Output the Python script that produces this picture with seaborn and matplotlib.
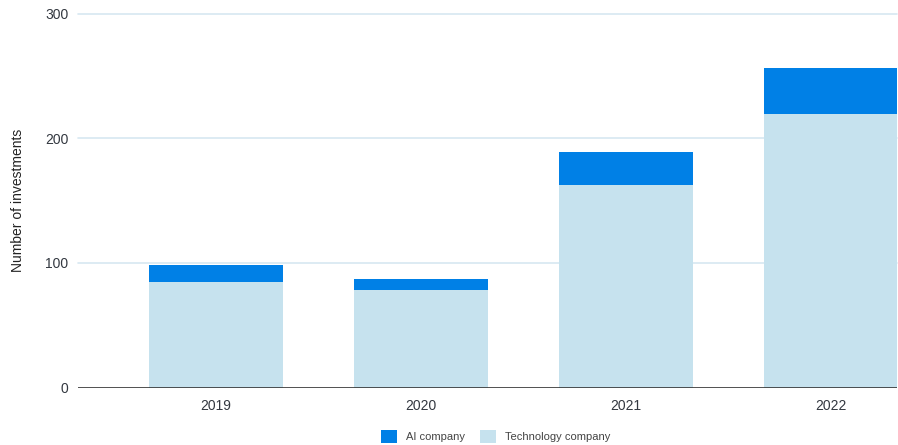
import matplotlib
matplotlib.use("Agg")
import matplotlib.pyplot as plt
from matplotlib.patches import Patch
import seaborn as sns
import pandas as pd

years = ["2019", "2020", "2021", "2022"]
tech_company = [85, 78, 163, 220]
ai_company = [13, 9, 26, 37]

AI_COLOR = "#0080E6"
TECH_COLOR = "#C6E2EE"
GRID_COLOR = "#D7E8F1"
TEXT_COLOR = "#333840"

sns.set_theme(style="white")
plt.rcParams["font.family"] = ["Liberation Sans", "DejaVu Sans"]

df = pd.DataFrame({
    "year": years,
    "tech": tech_company,
    "total": [t + a for t, a in zip(tech_company, ai_company)],
})

fig = plt.figure(figsize=(8.98, 4.45), dpi=100)
ax = fig.add_axes([78 / 898, 57.5 / 445, 819 / 898, 373.5 / 445])

# Stacked bars: full height in AI colour, technology part drawn over it
sns.barplot(data=df, x="year", y="total", color=AI_COLOR, width=0.65,
            saturation=1, linewidth=0, ax=ax, zorder=2)
sns.barplot(data=df, x="year", y="tech", color=TECH_COLOR, width=0.65,
            saturation=1, linewidth=0, ax=ax, zorder=3)

# Category slots are offset so the last bar sits at the right edge
ax.set_xlim(-0.673, 3.322)
ax.set_ylim(0, 300)
ax.set_yticks([0, 100, 200, 300])
for y in [100, 200, 300]:
    ax.axhline(y, color=GRID_COLOR, lw=1.2, zorder=1, clip_on=False)
ax.axhline(0, color="#333333", lw=1.2, zorder=4)

for s in ax.spines.values():
    s.set_visible(False)
ax.tick_params(axis="both", length=0, labelsize=10, colors=TEXT_COLOR)
ax.tick_params(axis="y", pad=7)
ax.tick_params(axis="x", pad=8)
ax.set_xlabel("")
ax.set_ylabel("")
fig.text(18 / 898, 1 - 200 / 445, "Number of investments", rotation=90,
         ha="center", va="center", fontsize=10, color="#222222")

handles = [Patch(facecolor=AI_COLOR, edgecolor="none", label="AI company"),
           Patch(facecolor=TECH_COLOR, edgecolor="none", label="Technology company")]
fig.legend(handles=handles, loc="center", bbox_to_anchor=(0.552, 0.02),
           ncol=2, frameon=False, fontsize=8, handlelength=1.4, handleheight=1.4,
           columnspacing=1.4, handletextpad=0.8, labelcolor="#444444")

fig.savefig("out.png", dpi=100)
